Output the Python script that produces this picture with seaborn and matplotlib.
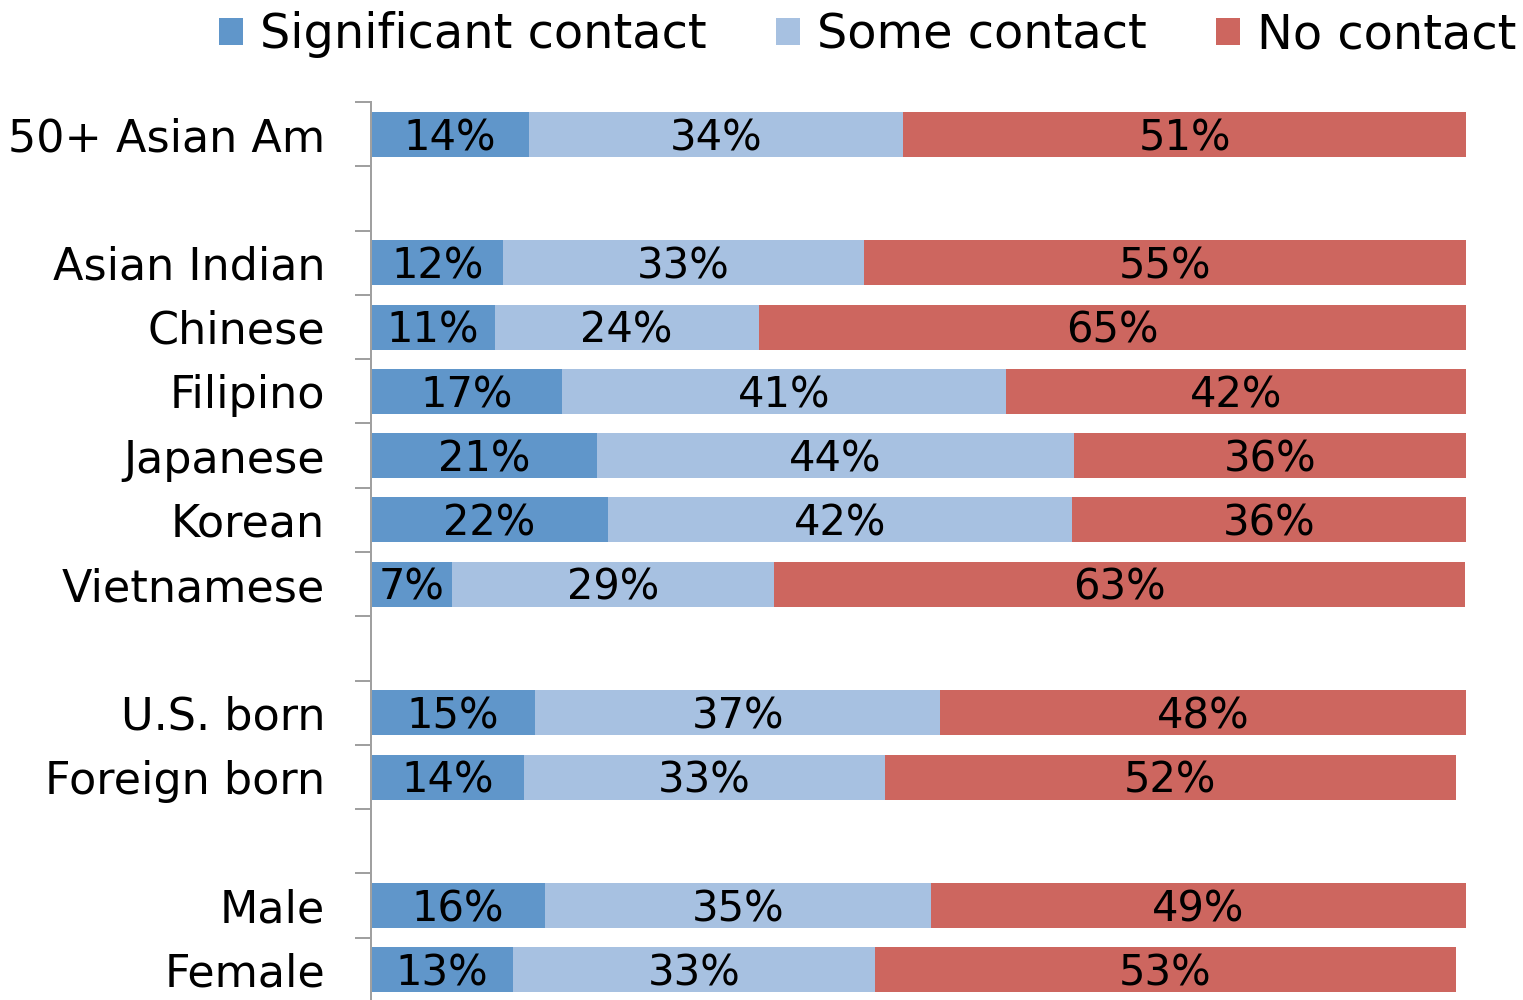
import matplotlib
matplotlib.use("Agg")
import matplotlib.pyplot as plt
import seaborn as sns
import pandas as pd
import numpy as np
from matplotlib.patches import Patch

# ---- data ----
categories = ["50+ Asian Am", "", "Asian Indian", "Chinese", "Filipino", "Japanese",
              "Korean", "Vietnamese", "", "U.S. born", "Foreign born", "", "Male", "Female"]
significant = [14.4, None, 12.1, 11.3, 17.4, 20.6, 21.6, 7.4, None, 15.0, 14.0, None, 15.9, 13.0]
some =        [34.2, None, 32.9, 24.1, 40.6, 43.6, 42.4, 29.4, None, 37.0, 32.9, None, 35.2, 33.0]
no_contact =  [51.4, None, 55.0, 64.6, 42.1, 35.8, 36.0, 63.1, None, 48.0, 52.2, None, 48.9, 53.1]
series_names = ["Significant contact", "Some contact", "No contact"]
colors = ["#6096CA", "#A7C1E1", "#CD665F"]

sns.set_theme(style="white")
FONT = ["DejaVu Sans"]
plt.rcParams["font.family"] = FONT
plt.rcParams["text.color"] = "black"
plt.rcParams["ytick.color"] = "black"
plt.rcParams["ytick.labelcolor"] = "black"

rows = []
for i, cat in enumerate(categories):
    if significant[i] is None:
        continue
    s, m, n = significant[i], some[i], no_contact[i]
    rows.append(dict(pos=i, cat=cat, sig=s, some=m, no=n,
                     c1=s, c2=s + m, c3=s + m + n))
df = pd.DataFrame(rows)

fig = plt.figure(figsize=(15.23, 10), dpi=100)
ax = fig.add_axes([371 / 1523, -0.002, 1095 / 1523, 0.9])

for col, color in zip(["c3", "c2", "c1"], colors[::-1]):
    sns.barplot(data=df, x=col, y="pos", orient="h", native_scale=True,
                color=color, width=0.7, linewidth=0, saturation=1, ax=ax)

# segment labels
for _, r in df.iterrows():
    starts = [0, r.c1, r.c2]
    vals = [r.sig, r.some, r.no]
    for st, v in zip(starts, vals):
        ax.text(st + v / 2, r.pos + 0.06, f"{int(np.floor(v + 0.5))}%",
                ha="center", va="center", fontsize=30, color="black")

ax.set_xlim(0, 100)
ax.set_ylim(13.5, -0.5)
ax.set_xlabel("")
ax.set_ylabel("")
ax.set_xticks([])
ax.set_yticks([i for i, c in enumerate(categories) if c])
ax.set_yticklabels([c for c in categories if c], fontsize=32, color="black")
ax.set_yticks(np.arange(-0.5, 14.0, 1.0), minor=True)
ax.tick_params(axis="y", which="major", length=0, pad=33)
ax.tick_params(axis="y", which="minor", length=11.5, width=1.44, color="#A0A0A0",
               direction="out", left=True)
for sp in ["top", "right", "bottom"]:
    ax.spines[sp].set_visible(False)
ax.spines["left"].set_color("#A0A0A0")
ax.spines["left"].set_linewidth(1.44)

handles = [Patch(facecolor=c, edgecolor="none") for c in colors]
leg = fig.legend(handles, series_names, loc="upper right", bbox_to_anchor=(1.008, 1.008),
                 ncol=3, frameon=False, fontsize=34.5, handlelength=0.5, handleheight=0.5,
                 handletextpad=0.35, columnspacing=1.45, borderaxespad=0)
for t in leg.get_texts():
    t.set_color("black")

fig.savefig("out.png", dpi=100)
